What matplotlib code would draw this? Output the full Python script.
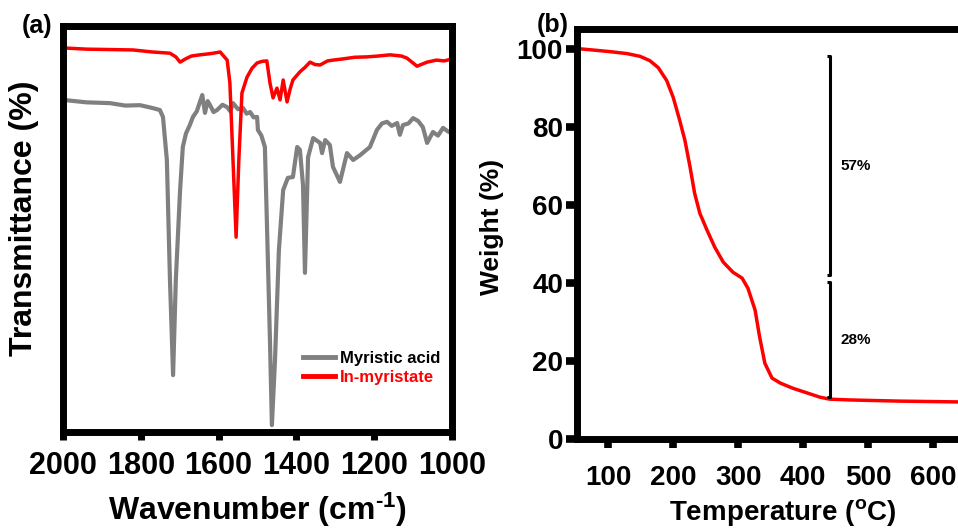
import numpy as np
import matplotlib
matplotlib.use('Agg')
import matplotlib.pyplot as plt

plt.rcParams['font.family'] = ['Liberation Sans', 'DejaVu Sans']
plt.rcParams['font.weight'] = 'bold'
plt.rcParams['mathtext.fontset'] = 'custom'
plt.rcParams['mathtext.rm'] = 'Liberation Sans:bold'
plt.rcParams['mathtext.bf'] = 'Liberation Sans:bold'
plt.rcParams['mathtext.default'] = 'rm'

# (a) FTIR, values (arbitrary transmittance units)
wn_acid = [2000, 1940, 1879, 1840, 1802, 1770, 1751, 1743, 1733, 1725, 1717, 1710, 1699, 1692,
           1684, 1674, 1666, 1656, 1648, 1642, 1635, 1628, 1622, 1613, 1604, 1590, 1578, 1570,
           1563, 1550, 1537, 1528, 1519, 1510, 1501, 1499, 1490, 1481, 1476, 1468, 1463, 1455,
           1445, 1434, 1422, 1409, 1398, 1391, 1383, 1378, 1370, 1357, 1339, 1334, 1326, 1314,
           1306, 1288, 1270, 1254, 1236, 1211, 1193, 1180, 1167, 1155, 1141, 1134, 1126, 1112,
           1100, 1087, 1075, 1064, 1049, 1036, 1023, 1010, 1000]
tr_acid = [81.8, 81.2, 81.0, 80.4, 80.5, 79.8, 79.3, 77.6, 67.0, 37.4, 14.0, 37.4, 59.6, 70.2,
           73.5, 75.6, 77.6, 79.0, 81.3, 83.0, 78.6, 81.5, 80.5, 78.8, 79.3, 80.6, 80.0, 79.0,
           81.0, 79.5, 79.8, 78.4, 78.8, 77.5, 77.6, 74.4, 73.0, 70.2, 52.2, 22.7, 1.7, 17.7,
           44.8, 59.6, 62.6, 62.8, 70.2, 69.5, 60.8, 39.2, 67.7, 72.4, 71.2, 68.7, 71.9, 70.7,
           65.3, 61.6, 68.7, 67.0, 68.2, 70.2, 74.4, 76.0, 76.4, 75.4, 76.1, 73.2, 75.6, 76.0,
           77.3, 76.6, 75.1, 71.2, 73.9, 73.0, 74.9, 74.0, 73.6]

wn_in = [2000, 1940, 1880, 1820, 1770, 1725, 1710, 1699, 1685, 1670, 1648, 1620, 1596, 1578,
         1571, 1563, 1555, 1548, 1540, 1527, 1514, 1501, 1488, 1476, 1468, 1460, 1450, 1442,
         1434, 1424, 1416, 1409, 1391, 1378, 1365, 1352, 1339, 1320, 1306, 1280, 1250, 1218,
         1190, 1159, 1130, 1116, 1090, 1064, 1040, 1020, 1000]
tr_in = [94.6, 94.3, 94.2, 94.1, 93.6, 93.3, 92.4, 91.1, 91.9, 92.6, 92.9, 93.2, 93.6, 91.6,
         86.0, 67.0, 48.0, 67.0, 83.5, 87.4, 89.6, 90.9, 91.3, 91.4, 86.0, 82.3, 84.7, 81.8,
         86.7, 81.3, 84.5, 86.7, 88.7, 89.8, 91.1, 90.5, 90.4, 91.4, 91.6, 91.9, 92.3, 92.4,
         92.6, 92.9, 92.6, 92.1, 90.1, 91.1, 91.6, 91.4, 91.9]

# (b) TGA
temp = [52, 103, 129, 149, 164, 177, 190, 200, 210, 218, 226, 233, 241, 252, 264, 277,
        292, 306, 315, 326, 333, 341, 352, 365, 384, 426, 441, 472, 549, 637, 700]
weight = [100.0, 99.2, 98.7, 98.0, 96.9, 95.1, 91.8, 87.5, 81.6, 76.5, 69.6, 62.9, 57.8,
          53.5, 49.1, 45.3, 42.7, 41.2, 38.6, 33.0, 26.1, 19.4, 15.6, 14.3, 13.0, 10.7,
          10.2, 10.0, 9.7, 9.5, 9.5]
steps = [(98.0, 41.9, '57%'), (40.2, 10.7, '28%')]
step_x = 441

fig = plt.figure(figsize=(9.58, 5.31), dpi=100)
W, H = 958.0, 531.0

ax1 = fig.add_axes([63/W, (H-432)/H, (452-63)/W, (432-26)/H])
ax1.plot(wn_acid, tr_acid, color='#808080', lw=3, label='Myristic acid')
ax1.plot(wn_in, tr_in, color='#ff0000', lw=2.5, label='In-myristate')
ax1.set_xlim(2000, 1000)
ax1.set_ylim(0, 100)
ax1.set_xticks([2000, 1800, 1600, 1400, 1200, 1000])
ax1.set_yticks([])
ax1.tick_params(axis='x', direction='out', length=6, width=5, labelsize=22, pad=8)
for s in ax1.spines.values():
    s.set_linewidth(5)
ax1.set_xlabel('Wavenumber (cm$^{\u2010 1}$)', fontsize=23, fontweight='bold', va='center')
ax1.xaxis.set_label_coords(0.5, -0.192)
ax1.set_ylabel('Transmittance (%)', fontsize=23, fontweight='bold', va='center')
ax1.yaxis.set_label_coords(-0.1, 0.527)
leg = ax1.legend(loc='upper left', bbox_to_anchor=(0.617, 0.2), frameon=False,
                 prop={'size': 12, 'weight': 'bold'}, handlelength=1.9,
                 handletextpad=0.3, labelspacing=0.26, borderpad=0, borderaxespad=0)
leg.get_texts()[1].set_color('#ff0000')
for l in leg.get_lines():
    l.set_linewidth(3.5)

ax2 = fig.add_axes([577/W, (H-439)/H, (700-52)*0.65/W, (439-29)/H])
ax2.plot(temp, weight, color='#ff0000', lw=2.5)
ax2.set_xlim(52, 700)
ax2.set_ylim(0, 105)
ax2.set_xticks([100, 200, 300, 400, 500, 600])
ax2.set_yticks([0, 20, 40, 60, 80, 100])
ax2.tick_params(axis='x', direction='out', length=6.5, width=5.5, labelsize=20, pad=12)
ax2.tick_params(axis='y', direction='out', length=8, width=5.5, labelsize=20, pad=2)
for s in ax2.spines.values():
    s.set_linewidth(5)
ax2.set_xlabel('Temperature ($^{o}$C)', fontsize=20, fontweight='bold', va='center')
ax2.xaxis.set_label_coords(0.489, -0.180)
ax2.set_ylabel('Weight (%)', fontsize=19, fontweight='bold', va='center')
ax2.yaxis.set_label_coords(-0.202, 0.517)

for top, bot, txt in steps:
    ax2.plot([step_x - 5, step_x, step_x, step_x - 5], [top, top, bot, bot],
             color='black', lw=2.2, solid_capstyle='butt')
    ax2.text(step_x + 16, (top + bot) / 2, txt, fontsize=11, fontweight='bold', va='center')

fig.text(22/W, 1 - 26/H, '(a)', fontsize=18, fontweight='bold', va='center')
fig.text(537/W, 1 - 25/H, '(b)', fontsize=18, fontweight='bold', va='center')

fig.savefig('out.png', dpi=100)
